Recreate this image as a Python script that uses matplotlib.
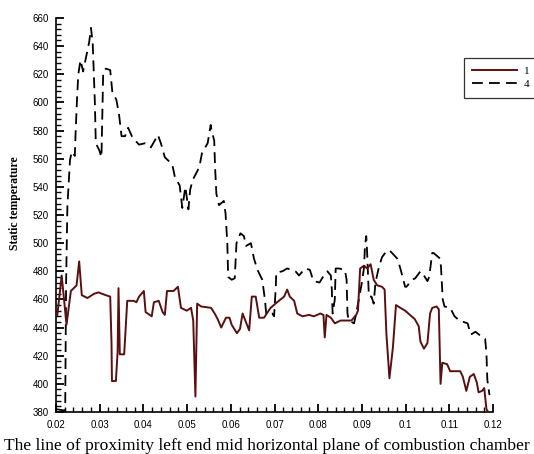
import matplotlib
matplotlib.use("Agg")
import matplotlib.pyplot as plt
import matplotlib.ticker as mticker

# series "1" (solid)
x1 = [0.0203, 0.0213, 0.0224, 0.0234, 0.0247, 0.0253, 0.0259, 0.0272, 0.0287, 0.0297,
      0.0314, 0.0324, 0.0327, 0.0328, 0.0337, 0.0341, 0.0343, 0.0346, 0.0356, 0.0363,
      0.0378, 0.0384, 0.0390, 0.0401, 0.0405, 0.0419, 0.0424, 0.0435, 0.0444, 0.0449,
      0.0454, 0.0469, 0.0479, 0.0486, 0.0499, 0.0509, 0.0514, 0.0519, 0.0523, 0.0532,
      0.0555, 0.0563, 0.0570, 0.0578, 0.0589, 0.0597, 0.0602, 0.0614, 0.0621, 0.0627,
      0.0632, 0.0642, 0.0648, 0.0657, 0.0665, 0.0676, 0.0691, 0.0706, 0.0722, 0.0729,
      0.0735, 0.0745, 0.0752, 0.0764, 0.0779, 0.0790, 0.0805, 0.0812, 0.0815, 0.0819,
      0.0829, 0.0838, 0.0851, 0.0867, 0.0876, 0.0887, 0.0891, 0.0896, 0.0905, 0.0912,
      0.0920, 0.0927, 0.0935, 0.0946, 0.0952, 0.0956, 0.0963, 0.0971, 0.0978, 0.0988,
      0.0999, 0.1010, 0.1021, 0.1030, 0.1034, 0.1042, 0.1050, 0.1056, 0.1061, 0.1071,
      0.1076, 0.1080, 0.1084, 0.1095, 0.1102, 0.1125, 0.1131, 0.1139, 0.1147, 0.1156,
      0.1163, 0.1167, 0.1175, 0.1180, 0.1185, 0.1195]
y1 = [449, 477, 442, 466, 470, 487, 463, 461, 464, 465,
      463, 462, 429, 402, 402, 423, 468, 421, 421, 459,
      459, 458, 462, 466, 451, 448, 458, 459, 451, 449,
      466, 466, 469, 454, 452, 454, 445, 391, 457, 455,
      454, 450, 446, 440, 447, 447, 442, 436, 439, 450,
      446, 438, 462, 462, 447, 447, 454, 458, 462, 467,
      462, 459, 450, 448, 449, 448, 450, 449, 433, 449,
      447, 443, 445, 445, 445, 449, 452, 482, 484, 482,
      485, 474, 470, 469, 467, 436, 404, 426, 456, 454,
      452, 449, 446, 441, 430, 425, 429, 450, 454, 455,
      453, 400, 415, 414, 409, 409, 405, 395, 405, 407,
      401, 394, 395, 397, 382, 377]

# series "4" (dashed)
x4 = [0.0200, 0.0221, 0.0223, 0.0225, 0.0226, 0.0232, 0.0236, 0.0243, 0.0245, 0.0248,
      0.0251, 0.0256, 0.0262, 0.0270, 0.0276, 0.0280, 0.0284, 0.0286, 0.0289, 0.0291,
      0.0299, 0.0304, 0.0306, 0.0308, 0.0314, 0.0324, 0.0329, 0.0338, 0.0344, 0.0350,
      0.0358, 0.0365, 0.0375, 0.0390, 0.0404, 0.0417, 0.0428, 0.0433, 0.0440, 0.0449,
      0.0466, 0.0472, 0.0483, 0.0489, 0.0496, 0.0503, 0.0507, 0.0513, 0.0528, 0.0534,
      0.0547, 0.0554, 0.0556, 0.0562, 0.0564, 0.0567, 0.0573, 0.0584, 0.0588, 0.0592,
      0.0594, 0.0602, 0.0609, 0.0613, 0.0622, 0.0630, 0.0635, 0.0646, 0.0653, 0.0661,
      0.0672, 0.0678, 0.0681, 0.0689, 0.0695, 0.0699, 0.0703, 0.0704, 0.0718, 0.0729,
      0.0748, 0.0756, 0.0770, 0.0781, 0.0787, 0.0790, 0.0803, 0.0811, 0.0821, 0.0829,
      0.0831, 0.0833, 0.0838, 0.0840, 0.0847, 0.0861, 0.0865, 0.0867, 0.0870, 0.0882,
      0.0887, 0.0893, 0.0900, 0.0905, 0.0907, 0.0910, 0.0912, 0.0915, 0.0916, 0.0922,
      0.0927, 0.0931, 0.0939, 0.0946, 0.0958, 0.0966, 0.0981, 0.0988, 0.0994, 0.0999,
      0.1002, 0.1015, 0.1022, 0.1034, 0.1042, 0.1050, 0.1054, 0.1058, 0.1061, 0.1064,
      0.1079, 0.1081, 0.1085, 0.1089, 0.1102, 0.1112, 0.1123, 0.1142, 0.1149, 0.1160,
      0.1172, 0.1182, 0.1185, 0.1187, 0.1192]
y4 = [382, 381, 470, 510, 526, 559, 565, 562, 580, 602,
      620, 630, 622, 634, 643, 653, 642, 625, 599, 571,
      566, 561, 590, 622, 624, 623, 607, 602, 592, 576,
      576, 582, 575, 570, 571, 568, 574, 577, 571, 561,
      556, 547, 541, 525, 540, 524, 538, 545, 554, 564,
      571, 584, 580, 573, 554, 535, 527, 530, 521, 500,
      476, 474, 475, 500, 507, 505, 498, 500, 489, 481,
      474, 460, 450, 449, 450, 448, 469, 479, 480, 482,
      480, 477, 482, 481, 475, 473, 472, 476, 480, 477,
      468, 450, 460, 482, 482, 481, 474, 450, 445, 443,
      450, 460, 472, 483, 498, 505, 493, 469, 462, 462,
      457, 472, 483, 490, 495, 494, 489, 482, 475, 469,
      469, 474, 475, 480, 477, 473, 476, 486, 493, 493,
      489, 483, 460, 455, 454, 448, 445, 443, 435, 437,
      434, 432, 422, 403, 392]

SOLID_COL = "#5a1010"

fig = plt.figure(figsize=(5.34, 4.54), dpi=100)
fig.patch.set_facecolor("white")
ax = fig.add_axes([0.1049, 0.0925, 0.8183, 0.8679])

ax.plot(x1, y1, color=SOLID_COL, lw=1.4, label="1", zorder=3)
ax.plot(x4, y4, color="black", lw=1.3, ls=(0, (6, 3.4)), label="4", zorder=2)

ax.set_xlim(0.02, 0.12)
ax.set_ylim(380, 660)

ax.xaxis.set_major_locator(mticker.MultipleLocator(0.01))
ax.xaxis.set_minor_locator(mticker.MultipleLocator(0.002))
ax.yaxis.set_major_locator(mticker.MultipleLocator(20))
ax.yaxis.set_minor_locator(mticker.MultipleLocator(4))
ax.xaxis.set_major_formatter(mticker.FuncFormatter(
    lambda v, _: "0.1" if abs(v - 0.1) < 1e-9 else f"{v:.2f}"))
ax.yaxis.set_major_formatter(mticker.FuncFormatter(lambda v, _: f"{v:.0f}"))

ax.tick_params(which="major", direction="in", length=6, width=1.3,
               labelsize=7, pad=5, labelfontfamily="Liberation Sans")
ax.tick_params(which="minor", direction="in", length=3.5, width=1.0)
ax.tick_params(axis="x", pad=6)

for s in ["top", "right"]:
    ax.spines[s].set_visible(False)
for s in ["left", "bottom"]:
    ax.spines[s].set_linewidth(1.2)

fig.text(0.5, 0.017,
         "The line of proximity left end mid horizontal plane of combustion chamber",
         ha="center", va="center", fontsize=12.6, family="Liberation Serif")
fig.text(0.028, 0.553, "Static temperature", rotation=90, ha="center", va="center",
         fontsize=8.5, family="Liberation Serif", fontweight="bold")

leg = ax.legend(loc="upper left", bbox_to_anchor=(0.869, 0.872),
                bbox_transform=fig.transFigure, fancybox=False, framealpha=1,
                edgecolor="#333333", prop={"family": "Liberation Serif", "size": 8},
                handlelength=4.0, borderpad=0.75, labelspacing=0.3, handletextpad=0.6,
                borderaxespad=0)
leg.get_frame().set_linewidth(0.9)

fig.savefig("out.png", dpi=100, facecolor="white")
